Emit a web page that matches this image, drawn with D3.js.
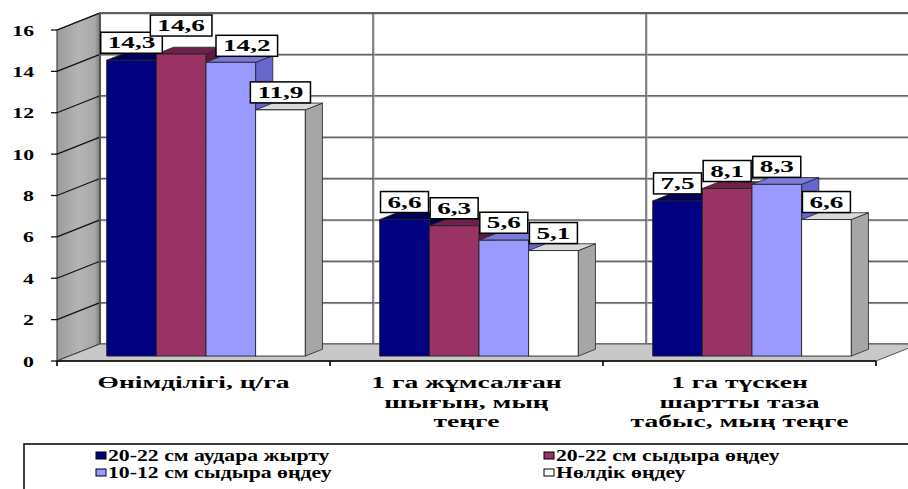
<!DOCTYPE html>
<html>
<head>
<meta charset="utf-8">
<script src="https://cdn.jsdelivr.net/npm/d3@7"></script>
<style>
  html, body { margin: 0; padding: 0; background: #fff; overflow: hidden; }
</style>
</head>
<body>
<svg id="chart" width="908" height="489"></svg>
<script>
// ---- data ----
const categories = [
  "Өнімділігі, ц/га",
  "1 га жұмсалған шығын, мың теңге",
  "1 га түскен шартты таза табыс, мың теңге"
];
const categoryLines = [
  ["Өнімділігі, ц/га"],
  ["1 га жұмсалған", "шығын, мың", "теңге"],
  ["1 га түскен", "шартты таза", "табыс, мың теңге"]
];
const seriesNames = [
  "20-22 см аудара жырту",
  "20-22 см сыдыра өңдеу",
  "10-12 см сыдыра өңдеу",
  "Нөлдік өңдеу"
];
const ploughing2022   = [14.3, 6.6, 7.5];
const subsoiling2022  = [14.6, 6.3, 8.1];
const subsoiling1012  = [14.2, 5.6, 8.3];
const zeroTillage     = [11.9, 5.1, 6.6];
const yTicks = [0, 2, 4, 6, 8, 10, 12, 14, 16];

// ---- styling ----
const FONT = "'Liberation Serif', 'Times New Roman', 'DejaVu Serif', serif";
const seriesValues = [ploughing2022, subsoiling2022, subsoiling1012, zeroTillage];
const faceColors = [
  { front: "#000080", top: "#00005e", side: "#000050" },
  { front: "#993366", top: "#6f2249", side: "#5e1c3d" },
  { front: "#9999ff", top: "#7b7bdb", side: "#6666cc" },
  { front: "#ffffff", top: "#d9d9d9", side: "#a6a6a6" }
];

const svg = d3.select("#chart");

// 3D projection: front plane plus a depth vector toward the back wall
const DX = 43, DY = -17;
const barNear = 0.29, barFar = 0.69;

const x0 = d3.scaleBand().domain(categories).range([57, 876]);
const x1 = d3.scaleBand().domain(seriesNames).range([0, x0.bandwidth()])
  .paddingInner(0).paddingOuter(0.75);
const y = d3.scaleLinear().domain([0, 16]).range([361, 30]);

const P = (x, yy, t) => [x + t * DX, yy + t * DY];
const poly = pts => pts.map(p => p.join(",")).join(" ");

function stretched(g, str, x, yy, size, sx, anchor) {
  return g.append("text")
    .attr("transform", `translate(${x},${yy}) scale(${sx},1)`)
    .attr("text-anchor", anchor || "middle")
    .attr("font-family", FONT)
    .attr("font-weight", "bold")
    .attr("font-size", size)
    .attr("fill", "#000")
    .text(str);
}

const fmt = v => v.toFixed(1).replace(".", ",");

// ---- back wall ----
const backLeft = P(57, 0, 1)[0], backRight = P(876, 0, 1)[0];
const backTop = P(0, y(16), 1)[1], backBottom = P(0, y(0), 1)[1];
svg.append("rect")
  .attr("x", backLeft).attr("y", backTop)
  .attr("width", backRight - backLeft).attr("height", backBottom - backTop)
  .attr("fill", "#fff");

const grid = svg.append("g");
yTicks.forEach(v => {
  const yy = P(0, y(v), 1)[1];
  grid.append("line").attr("x1", backLeft).attr("x2", backRight)
    .attr("y1", yy + 1).attr("y2", yy + 1).attr("stroke", "#b4b4b4").attr("stroke-width", 1);
  grid.append("line").attr("x1", backLeft).attr("x2", backRight)
    .attr("y1", yy).attr("y2", yy).attr("stroke", "#666").attr("stroke-width", 1.5);
});
categories.forEach((c, i) => {
  if (i === 0) return;
  const xx = P(x0(c), 0, 1)[0];
  grid.append("line").attr("x1", xx + 1).attr("x2", xx + 1)
    .attr("y1", backTop).attr("y2", backBottom).attr("stroke", "#b4b4b4").attr("stroke-width", 1);
  grid.append("line").attr("x1", xx).attr("x2", xx)
    .attr("y1", backTop).attr("y2", backBottom).attr("stroke", "#666").attr("stroke-width", 1.5);
});

// ---- side wall ----
const defs = svg.append("defs");
const sideGrad = defs.append("linearGradient").attr("id", "sideGrad")
  .attr("x1", "0").attr("x2", "1").attr("y1", "0").attr("y2", "0");
sideGrad.append("stop").attr("offset", "0").attr("stop-color", "#9c9c9c");
sideGrad.append("stop").attr("offset", "0.5").attr("stop-color", "#b4b4b4");
sideGrad.append("stop").attr("offset", "0.88").attr("stop-color", "#a8a8a8");
sideGrad.append("stop").attr("offset", "1").attr("stop-color", "#7a7a7a");

svg.append("polygon")
  .attr("points", poly([P(57, y(16), 0), P(57, y(16), 1), P(57, y(0), 1), P(57, y(0), 0)]))
  .attr("fill", "url(#sideGrad)").attr("stroke", "#444").attr("stroke-width", 1.2);

yTicks.forEach(v => {
  const a = P(57, y(v), 0), b = P(57, y(v), 1);
  svg.append("line").attr("x1", a[0]).attr("y1", a[1]).attr("x2", b[0]).attr("y2", b[1])
    .attr("stroke", "#111").attr("stroke-width", 1.3);
  svg.append("line").attr("x1", a[0] - 6).attr("y1", a[1]).attr("x2", a[0]).attr("y2", a[1])
    .attr("stroke", "#111").attr("stroke-width", 1.3);
});
// back corner edge and top edge
svg.append("line").attr("x1", backLeft).attr("x2", backLeft)
  .attr("y1", backTop).attr("y2", backBottom).attr("stroke", "#555").attr("stroke-width", 2);
svg.append("line").attr("x1", backLeft).attr("x2", backRight)
  .attr("y1", backTop).attr("y2", backTop).attr("stroke", "#555").attr("stroke-width", 1.5);

// ---- floor ----
svg.append("polygon")
  .attr("points", poly([P(57, y(0), 0), P(876, y(0), 0), P(876, y(0), 1), P(57, y(0), 1)]))
  .attr("fill", "#c8c8c8").attr("stroke", "#555").attr("stroke-width", 1);
svg.append("line").attr("x1", 57).attr("x2", 876).attr("y1", y(0)).attr("y2", y(0))
  .attr("stroke", "#000").attr("stroke-width", 1.6);
[57, ...categories.map(c => x0(c) + x0.bandwidth())].forEach(xx => {
  svg.append("line").attr("x1", xx).attr("x2", xx).attr("y1", y(0)).attr("y2", y(0) + 5)
    .attr("stroke", "#000").attr("stroke-width", 1.6);
});

// ---- bars ----
const bars = svg.append("g");
const barTops = [];
categories.forEach((c, ci) => {
  seriesNames.forEach((s, si) => {
    const v = seriesValues[si][ci];
    const xl = x0(c) + x1(s), xr = xl + x1.bandwidth();
    const fl = P(xl, y(v), barNear), fr = P(xr, y(v), barNear);
    const bl = P(xl, y(0), barNear), br = P(xr, y(0), barNear);
    const fl2 = P(xl, y(v), barFar), fr2 = P(xr, y(v), barFar), br2 = P(xr, y(0), barFar);
    const col = faceColors[si];
    bars.append("polygon").attr("points", poly([fr, fr2, br2, br]))
      .attr("fill", col.side).attr("stroke", "#222").attr("stroke-width", 0.8);
    bars.append("polygon").attr("points", poly([fl, fl2, fr2, fr]))
      .attr("fill", col.top).attr("stroke", "#222").attr("stroke-width", 0.8);
    bars.append("polygon").attr("points", poly([fl, fr, br, bl]))
      .attr("fill", col.front).attr("stroke", "#222").attr("stroke-width", 0.9);
    barTops.push({ ci, si, v, cx: (fl[0] + fr[0]) / 2, top: fl[1] });
  });
});

// ---- value labels ----
// two crowded labels in the first group are shifted apart
const labelShift = { "0-1": [0, -11], "0-2": [16, 1] };
const labels = svg.append("g");
barTops.forEach(b => {
  const sh = labelShift[b.ci + "-" + b.si] || [0, 0];
  const bottom = b.top - 7 + sh[1];
  const cx = b.cx + sh[0];
  const g = labels.append("g");
  const rect = g.append("rect");
  const t = stretched(g, fmt(b.v), cx, bottom - 5, 17, 1.6);
  const w = t.node().getComputedTextLength() * 1.6 + 14;
  rect.attr("x", cx - w / 2).attr("y", bottom - 21).attr("width", w).attr("height", 21)
    .attr("fill", "#fff").attr("stroke", "#000").attr("stroke-width", 1.5);
});

// ---- y axis labels ----
yTicks.forEach(v => {
  stretched(svg, String(v), 34, y(v) + 5.5, 15, 1.45, "end");
});

// ---- category labels ----
categories.forEach((c, ci) => {
  const cx = x0(c) + x0.bandwidth() / 2;
  categoryLines[ci].forEach((line, li) => {
    stretched(svg, line, cx, 388 + li * 19.5, 17, 1.62);
  });
});

// ---- legend ----
const legend = svg.append("g");
legend.append("rect").attr("x", 24).attr("y", 444).attr("width", 900).attr("height", 80)
  .attr("fill", "#fff").attr("stroke", "#000").attr("stroke-width", 1.5);
const legCols = [96, 544], legRows = [455.5, 472.5];
seriesNames.forEach((s, i) => {
  const lx = legCols[i % 2], ly = legRows[Math.floor(i / 2)];
  legend.append("rect").attr("x", lx).attr("y", ly - 3.5).attr("width", 10).attr("height", 7)
    .attr("fill", faceColors[i].front).attr("stroke", "#000").attr("stroke-width", 1);
  stretched(legend, s, lx + 12, ly + 5, 17, 1.28, "start");
});
</script>
</body>
</html>
